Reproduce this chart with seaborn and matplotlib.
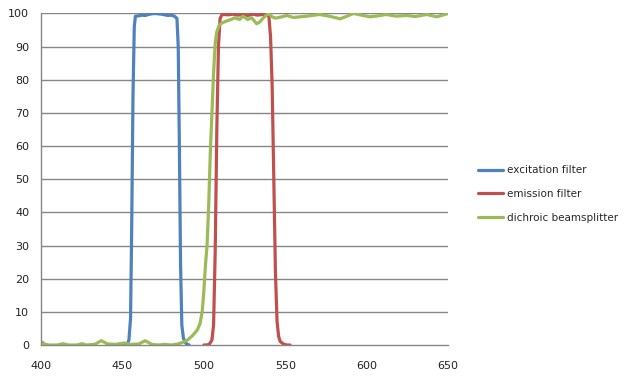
import matplotlib
matplotlib.use('Agg')
import matplotlib.pyplot as plt
import seaborn as sns
import numpy as np

# excitation filter
exc_wl = [450, 452, 453, 454, 455, 455.7, 456.5, 457.3, 458, 460, 462, 464, 466, 468, 470,
          472, 474, 476, 478, 480, 482, 483.5, 484.3, 485, 485.7, 486.5, 487.5, 489, 491]
exc_val = [0, 0, 0.3, 1.5, 8, 35, 75, 96, 99.2, 99.3, 99.5, 99.4, 99.7, 99.9, 100,
           99.9, 99.8, 99.6, 99.4, 99.5, 99.2, 98.5, 90, 60, 25, 6, 2, 0.5, 0]

# emission filter
em_wl = [500, 502, 503.5, 505, 506, 507, 508, 509, 510, 511, 512, 515, 518, 521, 524, 527,
         530, 533, 536, 539, 540, 541, 542, 543, 544, 545, 546, 547, 549, 551, 553]
em_val = [0, 0, 0.3, 1.5, 6, 28, 65, 90, 98.5, 99.5, 99.7, 99.6, 99.8, 99.5, 99.7, 99.4,
          99.8, 99.5, 99.7, 99.8, 99, 93, 78, 50, 22, 7, 2.5, 1, 0.3, 0, 0]

# dichroic beamsplitter
di_wl = [400, 401, 402.5, 405, 410, 413.5, 417, 422, 425, 428, 433, 437, 441, 446, 451, 455,
         460, 464, 468, 472, 476, 480, 484, 487, 490, 493, 496, 497.7, 499, 500, 501, 502,
         503, 504, 505, 506, 507, 508, 509.5, 511, 513.8, 516.9, 518.9, 522, 524, 527, 529.4,
         532.5, 534.5, 536.6, 539.6, 542, 544, 548, 551, 555, 559, 565, 571, 577, 583.7, 588,
         592, 597, 602, 607, 612, 618, 624.6, 630, 637, 643, 646, 650]
di_val = [0.3, 0.8, 0.2, 0, 0, 0.4, 0, 0, 0.4, 0, 0.2, 1.3, 0.3, 0.2, 0.6, 0.2,
          0.3, 1.3, 0.2, 0, 0.2, 0, 0.3, 0.8, 1.5, 2.8, 4.5, 6.5, 10, 16, 24, 30,
          42, 58, 70, 82, 91, 94.5, 96.5, 97.1, 97.7, 98.2, 98.7, 98.2, 99.2, 98.2, 98.7,
          96.9, 97.5, 98.7, 100, 99.0, 98.6, 99.0, 99.4, 98.8, 99.0, 99.3, 99.7, 99.2, 98.4, 99.2,
          100, 99.5, 99.0, 99.3, 99.7, 99.2, 99.4, 99.1, 99.7, 99.0, 99.4, 100]

labels = ['excitation filter', 'emission filter', 'dichroic beamsplitter']
colors = ['#4F81BD', '#C0504D', '#9BBB59']
x_ticks = [400, 450, 500, 550, 600, 650]
y_ticks = list(range(0, 101, 10))

sns.set_style('white')
plt.rcParams['font.family'] = ['DejaVu Sans']

fig = plt.figure(figsize=(6.32, 3.86), dpi=100)
ax = fig.add_axes([41/632, 1 - 345/386, 407/632, (345 - 13.5)/386])

gray = '#868686'
for y in y_ticks[1:]:
    ax.axhline(y, color=gray, lw=1, zorder=0)

for wl, val, lab, col in zip([exc_wl, em_wl, di_wl], [exc_val, em_val, di_val], labels, colors):
    sns.lineplot(x=wl, y=val, ax=ax, color=col, lw=2.3, label=lab)

ax.set_xlim(400, 650)
ax.set_ylim(0, 100)
ax.set_xticks(x_ticks)
ax.set_yticks(y_ticks)
ax.set_xlabel('')
ax.set_ylabel('')
for s in ['top', 'right']:
    ax.spines[s].set_visible(False)
for s in ['left', 'bottom']:
    ax.spines[s].set_color(gray)
    ax.spines[s].set_linewidth(1)
ax.tick_params(axis='x', direction='out', length=3.6, width=1, color=gray, pad=8,
               labelsize=8, labelcolor='#222222')
ax.tick_params(axis='y', direction='out', length=3, width=1, color=gray, pad=5.5,
               labelsize=8, labelcolor='#222222')

ax.get_legend().remove()
handles, labs = ax.get_legend_handles_labels()
fig.legend(handles, labs, loc='center left', bbox_to_anchor=(478/632, 1 - 194/386),
           frameon=False, fontsize=7.5, handlelength=2.4, handletextpad=0.4,
           labelspacing=1.3, borderaxespad=0, borderpad=0)

fig.savefig('out.png', dpi=100)
